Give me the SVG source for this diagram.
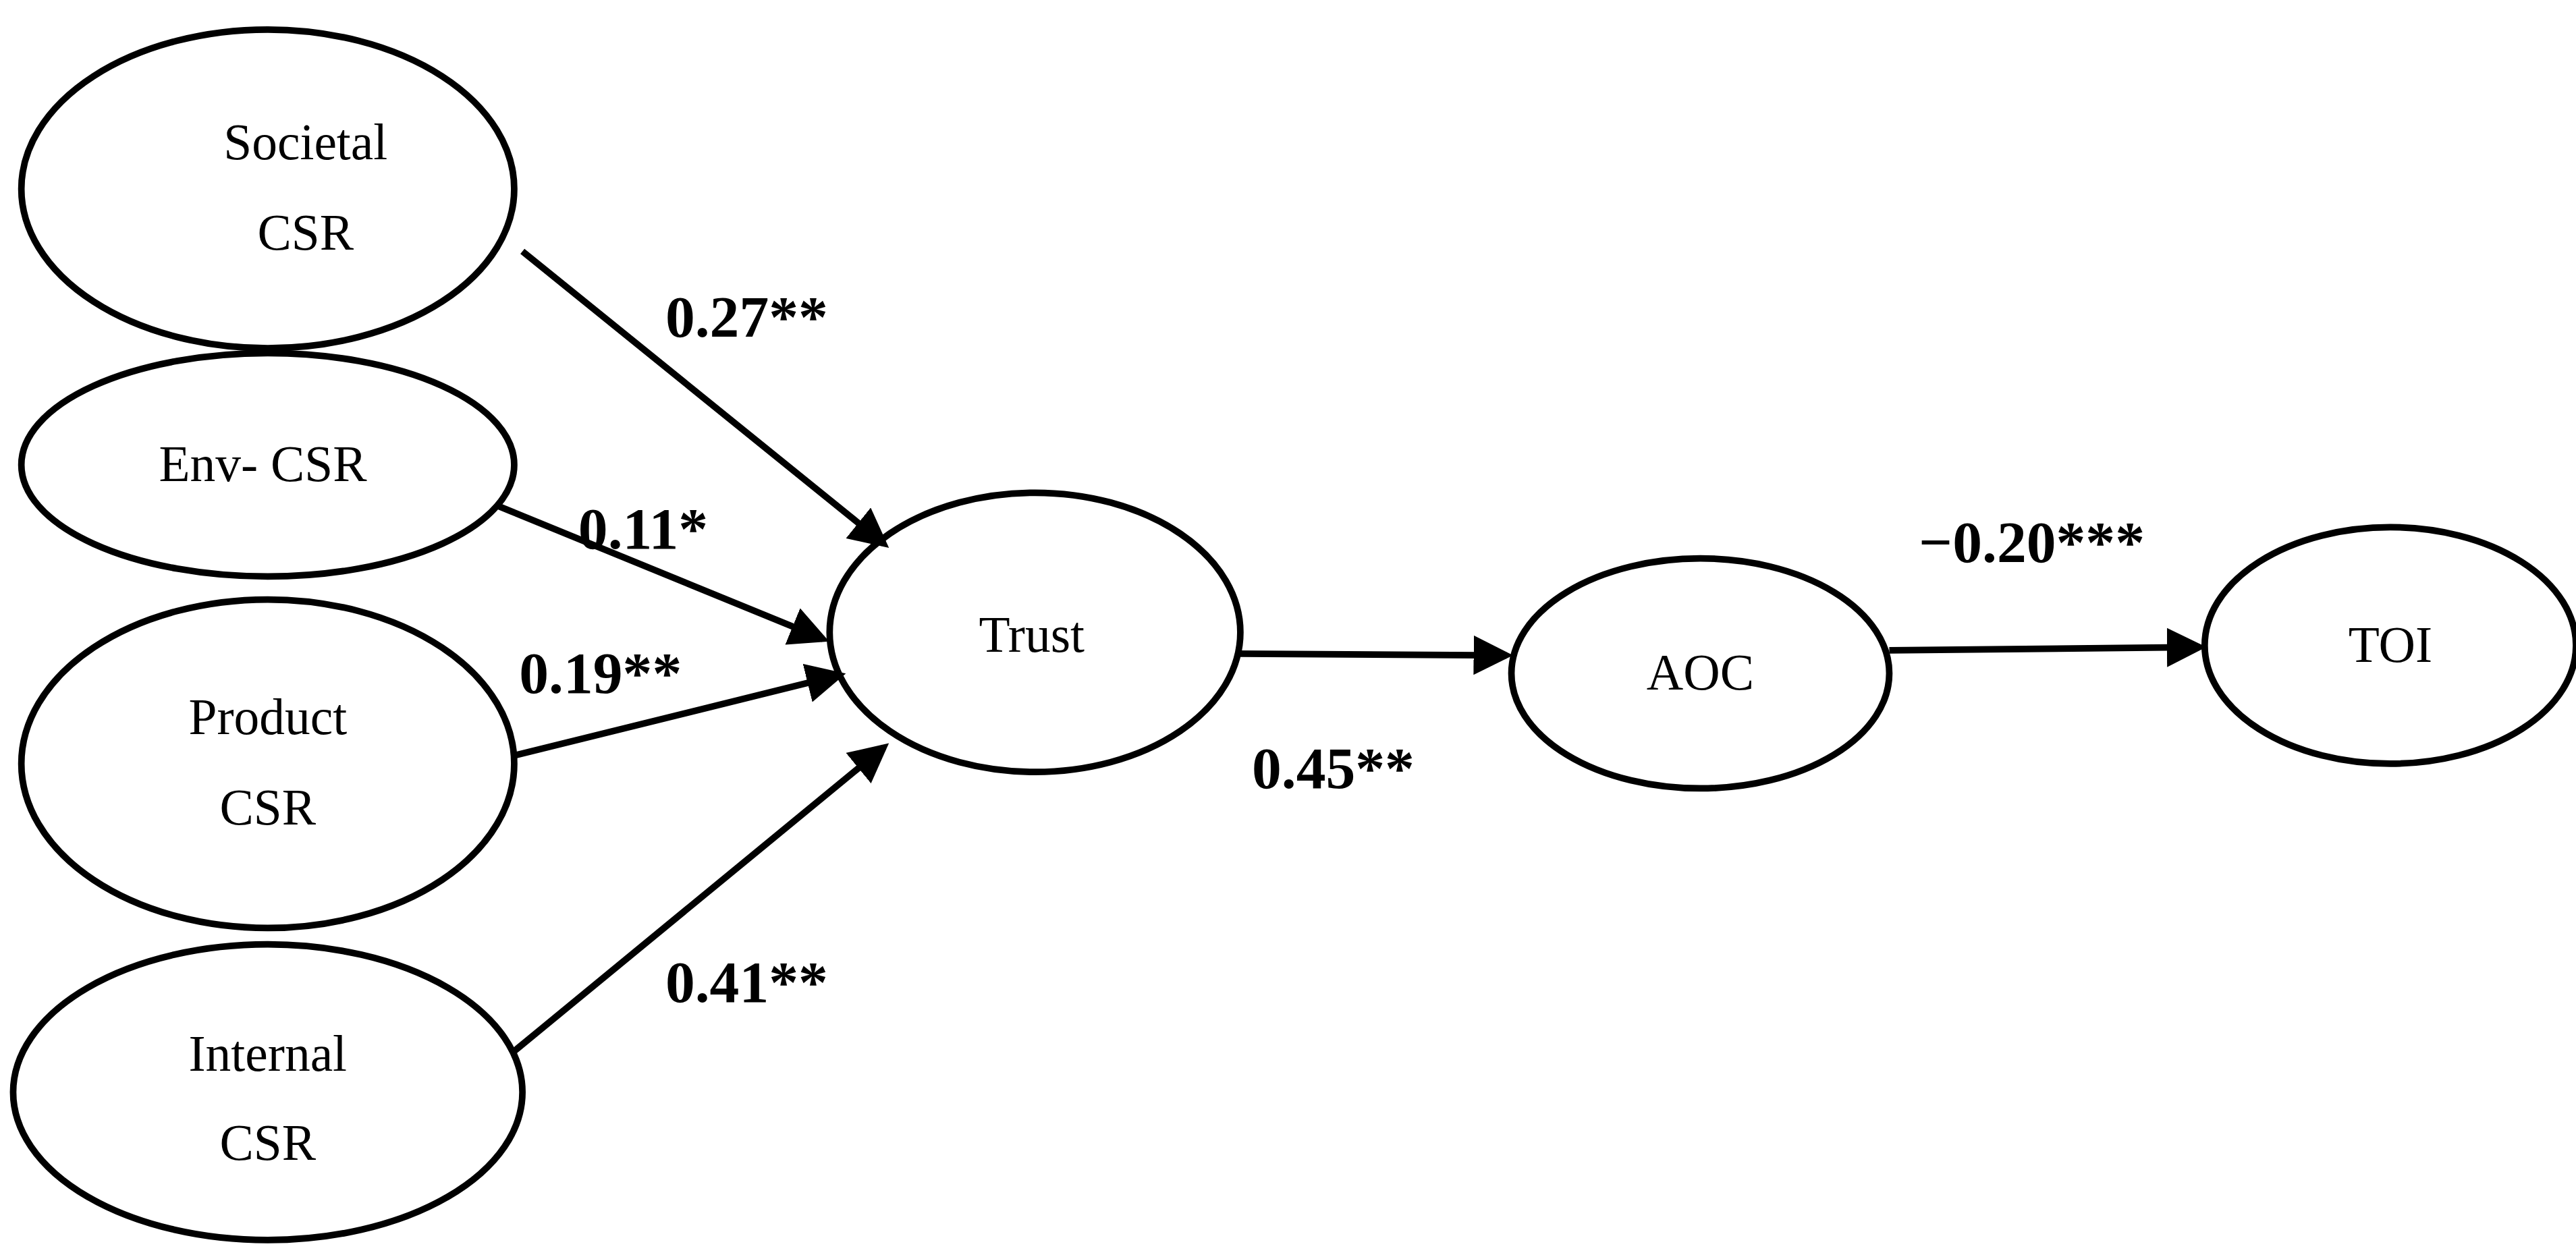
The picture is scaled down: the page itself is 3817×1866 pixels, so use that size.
<svg xmlns="http://www.w3.org/2000/svg" width="3817" height="1866" viewBox="0 0 3817 1866">
<style>
.n{fill:#fff;stroke:#000;stroke-width:4}
.t{font-family:"Liberation Serif",serif;font-size:31px;text-anchor:middle;fill:#000}
.l{font-family:"Liberation Serif",serif;font-size:36px;font-weight:bold;fill:#000}
.c{stroke:#000;stroke-width:4;fill:none;marker-end:url(#a)}
</style>
<defs><marker id="a" markerWidth="6" markerHeight="6" refX="5" refY="3" orient="auto" markerUnits="strokeWidth"><path d="M0,0 L6,3 L0,6 z" fill="#000"/></marker></defs>
<rect width="3817" height="1866" fill="#fff"/>
<g transform="scale(2.4343)">
<g id="societal"><ellipse class="n" cx="163" cy="115" rx="150" ry="97"/><text class="t" x="186" y="97">Societal</text><text class="t" x="186" y="152">CSR</text></g>
<g id="env"><ellipse class="n" cx="163" cy="283" rx="150" ry="68"/><text class="t" x="160" y="293">Env- CSR</text></g>
<g id="product"><ellipse class="n" cx="163" cy="465" rx="150" ry="100"/><text class="t" x="163" y="447">Product</text><text class="t" x="163" y="502">CSR</text></g>
<g id="internal"><ellipse class="n" cx="163" cy="665" rx="155" ry="90"/><text class="t" x="163" y="652">Internal</text><text class="t" x="163" y="706">CSR</text></g>
<g id="trust"><ellipse class="n" cx="630" cy="385" rx="125" ry="85"/><text class="t" x="628" y="397">Trust</text></g>
<g id="aoc"><ellipse class="n" cx="1035" cy="410" rx="115" ry="70"/><text class="t" x="1035" y="420">AOC</text></g>
<g id="toi"><ellipse class="n" cx="1455" cy="393" rx="113" ry="72"/><text class="t" x="1455" y="403">TOI</text></g>
<g id="connectors">
<line class="c" x1="318" y1="153" x2="538" y2="331"/>
<line class="c" x1="303" y1="308" x2="501" y2="389"/>
<line class="c" x1="313" y1="460" x2="511" y2="411"/>
<line class="c" x1="313" y1="640" x2="538" y2="455"/>
<line class="c" x1="755" y1="398" x2="917" y2="399"/>
<line class="c" x1="1150" y1="396" x2="1339" y2="394"/>
<text class="l" x="405" y="205">0.27**</text>
<text class="l" x="352" y="334">0.11*</text>
<text class="l" x="316" y="422">0.19**</text>
<text class="l" x="405" y="610">0.41**</text>
<text class="l" x="762" y="480">0.45**</text>
<text class="l" x="1168" y="342">−0.20***</text>
</g>
</g>
</svg>
